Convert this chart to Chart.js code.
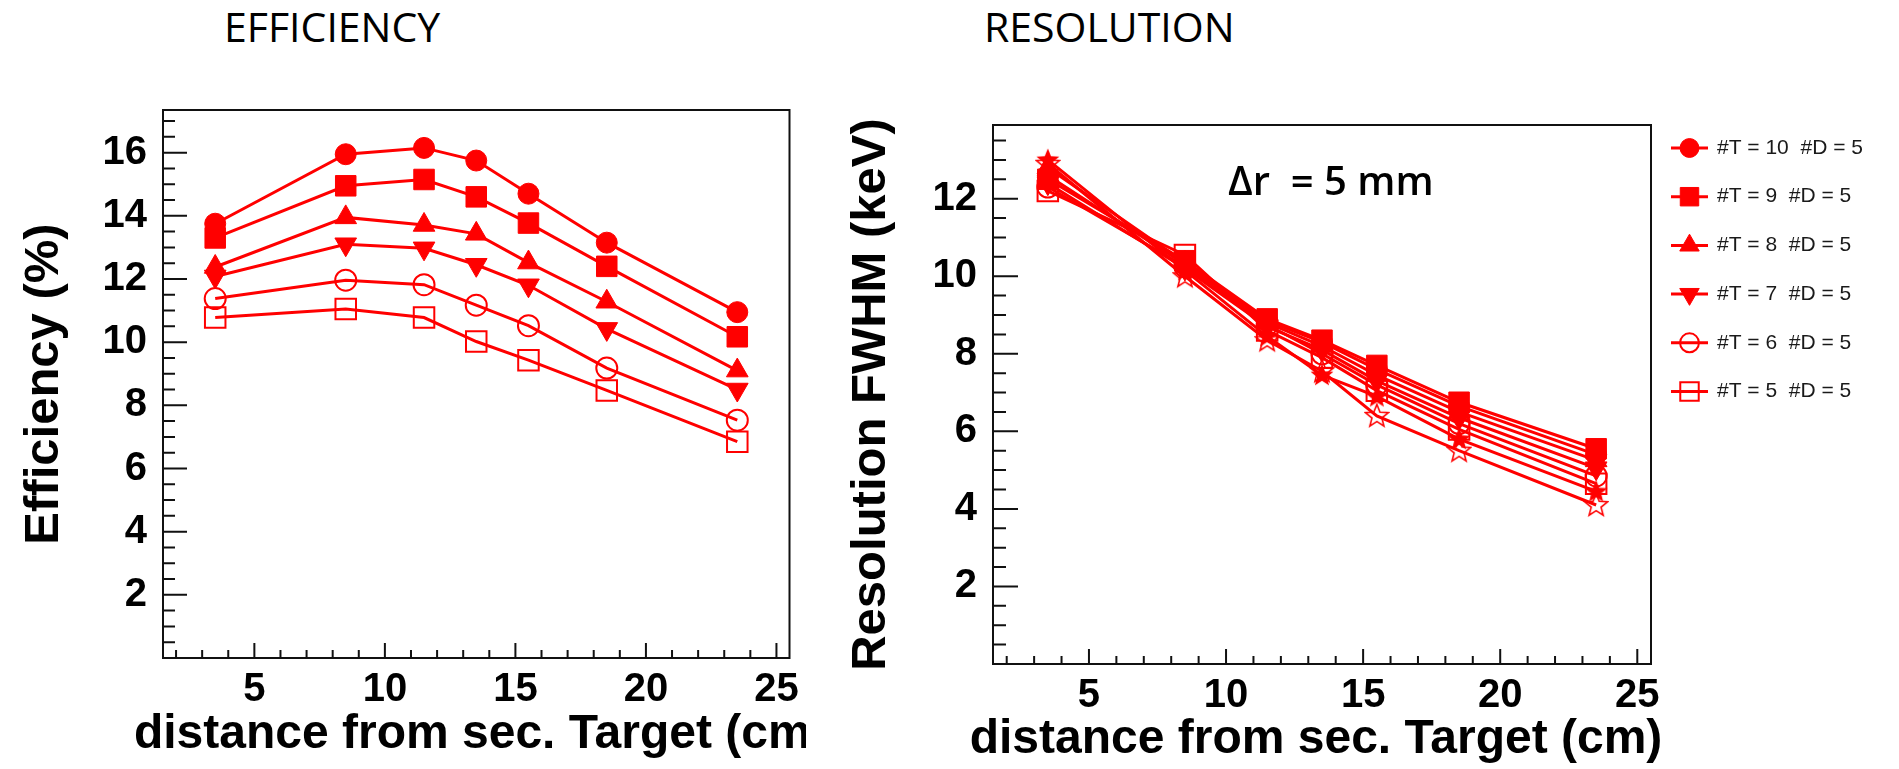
<!DOCTYPE html>
<html>
<head>
<meta charset="utf-8">
<script src="https://cdn.jsdelivr.net/npm/chart.js@4.4.1/dist/chart.umd.min.js"></script>
<style>
  body { margin: 0; background: #fff; width: 1899px; height: 769px; position: relative; overflow: hidden; }
  canvas { position: absolute; top: 0; }
  .ttl { position: absolute; font-family: "Open Sans"; font-size: 41px; line-height: 40px; color: #000; }
  #dr { position: absolute; left: 1228px; top: 160px; font-family: "Open Sans"; font-weight: 600; font-size: 40px; line-height: 40px; color: #000; white-space: pre; }
</style>
</head>
<body>
<div class="ttl" style="left:224px; top:6px">EFFICIENCY</div>
<div class="ttl" style="left:984px; top:6px">RESOLUTION</div>
<canvas id="eff" width="806" height="769" style="left:0"></canvas>
<canvas id="res" width="1093" height="769" style="left:806px"></canvas>
<div id="dr">Δr  = 5 mm</div>
<script>
// distance from secondary target (cm)
const distances = [3.5, 8.5, 11.5, 13.5, 15.5, 18.5, 23.5];
const xTicks = [5, 10, 15, 20, 25];
const effTicks = [2, 4, 6, 8, 10, 12, 14, 16];
const resTicks = [2, 4, 6, 8, 10, 12];

const seriesLabels = [
  "#T = 10  #D = 5", "#T = 9  #D = 5", "#T = 8  #D = 5",
  "#T = 7  #D = 5", "#T = 6  #D = 5", "#T = 5  #D = 5"
];

// efficiency (%)
const effT10 = [13.75, 15.95, 16.15, 15.75, 14.7, 13.15, 10.95];
const effT9 = [13.3, 14.95, 15.15, 14.6, 13.77, 12.4, 10.17];
const effT8 = [12.38, 13.95, 13.71, 13.43, 12.52, 11.28, 9.1];
const effT7 = [12.08, 13.1, 12.97, 12.45, 11.8, 10.42, 8.5];
const effT6 = [11.38, 11.96, 11.82, 11.17, 10.52, 9.18, 7.53];
const effT5 = [10.78, 11.05, 10.78, 10.02, 9.43, 8.47, 6.85];

// resolution FWHM (keV)
const resT10 = [12.6, 10.3, 8.85, 8.3, 7.6, 6.65, 5.4];
const resT9 = [12.5, 10.4, 8.9, 8.35, 7.7, 6.75, 5.55];
const resT8 = [12.8, 10.35, 8.8, 8.2, 7.45, 6.5, 5.25];
const resT7 = [12.4, 10.2, 8.7, 8.1, 7.3, 6.35, 5.05];
const resT6 = [12.3, 10.25, 8.75, 8.0, 7.2, 6.2, 4.85];
const resT5 = [12.2, 10.55, 8.6, 7.9, 7.05, 6.05, 4.65];
// two extra graphs drawn with stars, not in the legend
const resStarFilled = [13.0, 10.15, 8.45, 7.45, 6.9, 5.8, 4.45];
const resStarOpen = [12.9, 10.0, 8.35, 7.55, 6.4, 5.5, 4.1];

const RED = "#ff0000";
const FONT = "'Liberation Sans', Arial, sans-serif";
const X_TITLE = "distance from sec. Target (cm)";

function starImage(filled) {
  const c = document.createElement("canvas");
  c.width = 26;
  c.height = 26;
  const g = c.getContext("2d");
  g.beginPath();
  for (let i = 0; i < 10; i++) {
    const r = i % 2 ? 5.2 : 12;
    const a = -Math.PI / 2 + i * Math.PI / 5;
    g.lineTo(13 + r * Math.cos(a), 13.5 + r * Math.sin(a));
  }
  g.closePath();
  if (filled) {
    g.fillStyle = RED;
    g.fill();
  } else {
    g.strokeStyle = RED;
    g.lineWidth = 1.6;
    g.stroke();
  }
  return c;
}

const markers = [
  { style: "circle", r: 10.5, fill: true },
  { style: "rect", r: 14.5, fill: true },
  { style: "triangle", r: 12.5, fill: true },
  { style: "triangle", r: 12.5, fill: true, rot: 180 },
  { style: "circle", r: 10.5, fill: false },
  { style: "rect", r: 14.5, fill: false }
];

function makeSet(label, ys, m) {
  return {
    label,
    data: distances.map((x, i) => ({ x, y: ys[i] })),
    borderColor: RED,
    borderWidth: 3,
    pointStyle: m.style,
    pointRadius: m.r,
    pointHoverRadius: m.r,
    pointRotation: m.rot || 0,
    pointBackgroundColor: m.fill ? RED : "rgba(0,0,0,0)",
    pointBorderColor: RED,
    pointBorderWidth: m.fill ? 1 : 2,
    showLine: true,
    tension: 0
  };
}

// frame, inside ticks and an unsqueezed x-axis title, the way ROOT draws them
const frameTicks = {
  id: "frameTicks",
  afterDraw(chart, args, opts) {
    const { ctx, chartArea: a, scales: { x, y } } = chart;
    ctx.save();
    ctx.strokeStyle = "#111";
    ctx.lineWidth = 2;
    ctx.strokeRect(a.left, a.top, a.right - a.left, a.bottom - a.top);
    ctx.beginPath();
    for (let v = 0.5; v < y.max; v += 0.5) {
      const py = y.getPixelForValue(v);
      const len = v % 2 === 0 ? opts.yMajor : opts.yMinor;
      ctx.moveTo(a.left, py);
      ctx.lineTo(a.left + len, py);
    }
    for (let v = Math.ceil(x.min); v < x.max; v += 1) {
      const px = x.getPixelForValue(v);
      const len = v % 5 === 0 ? 15 : 8;
      ctx.moveTo(px, a.bottom);
      ctx.lineTo(px, a.bottom - len);
    }
    ctx.stroke();

    ctx.fillStyle = "#000";
    ctx.font = "bold " + opts.titleSize + "px " + FONT;
    ctx.textAlign = "center";
    ctx.textBaseline = "alphabetic";
    ctx.fillText(X_TITLE, (a.left + a.right) / 2 + opts.titleShift, opts.titleBase);
    ctx.restore();
  }
};

// legend: line segment with marker, then label
const lineLegend = {
  id: "lineLegend",
  afterDraw(chart) {
    const { ctx, chartArea: a } = chart;
    ctx.save();
    chart.data.datasets.slice(0, seriesLabels.length).forEach((ds, i) => {
      const y = a.top + 23 + i * 48.7;
      ctx.strokeStyle = RED;
      ctx.lineWidth = 3;
      ctx.beginPath();
      ctx.moveTo(a.right + 20, y);
      ctx.lineTo(a.right + 57, y);
      ctx.stroke();
      ctx.fillStyle = ds.pointBackgroundColor;
      ctx.lineWidth = ds.pointBorderWidth;
      Chart.helpers.drawPoint(ctx, {
        pointStyle: ds.pointStyle,
        radius: ds.pointRadius * 0.9,
        rotation: ds.pointRotation,
        borderWidth: ds.pointBorderWidth
      }, a.right + 38.5, y);
      ctx.fillStyle = "#1a1a1a";
      ctx.font = "21px " + FONT;
      ctx.textBaseline = "middle";
      ctx.textAlign = "left";
      ctx.fillText(ds.label, a.right + 66, y);
    });
    ctx.restore();
  }
};

function axes(cfg) {
  return {
    x: {
      type: "linear", min: 1.5, max: 25.5,
      grid: { display: false }, border: { display: false },
      afterBuildTicks: s => { s.ticks = xTicks.map(v => ({ value: v })); },
      afterFit: s => { s.height = cfg.xH; },
      ticks: { font: { family: FONT, size: 40, weight: "bold" }, color: "#000", padding: 0, maxRotation: 0, autoSkip: false },
      title: { display: false }
    },
    y: {
      type: "linear", min: 0, max: cfg.yMax,
      grid: { display: false }, border: { display: false },
      afterBuildTicks: s => { s.ticks = cfg.yTicks.map(v => ({ value: v })); },
      afterFit: s => { s.width = cfg.yW; },
      ticks: { font: { family: FONT, size: 40, weight: "bold" }, color: "#000", padding: 8 },
      title: { display: true, text: cfg.yTitle, color: "#000",
        font: { family: FONT, size: 49, weight: "bold", lineHeight: 1.2 }, padding: { top: cfg.yTitlePad, bottom: 0 } }
    }
  };
}

const common = {
  responsive: false,
  animation: false,
  devicePixelRatio: 1,
  events: []
};

new Chart(document.getElementById("eff"), {
  type: "scatter",
  data: {
    datasets: [effT10, effT9, effT8, effT7, effT6, effT5].map((ys, i) => makeSet(seriesLabels[i], ys, markers[i]))
  },
  options: {
    ...common,
    layout: { padding: { left: 0, top: 110, right: 4, bottom: 0 } },
    scales: axes({ yMax: 17.35, yTicks: effTicks, yTitle: "Efficiency (%)", yW: 163, xH: 111, yTitlePad: 15 }),
    plugins: {
      legend: { display: false }, tooltip: { enabled: false },
      frameTicks: { yMajor: 24, yMinor: 12, titleSize: 48, titleShift: 4, titleBase: 748 }
    }
  },
  plugins: [frameTicks]
});

const starFilledSet = makeSet("star", resStarFilled, { style: starImage(true), r: 12, fill: true });
const starOpenSet = makeSet("open star", resStarOpen, { style: starImage(false), r: 12, fill: false });

new Chart(document.getElementById("res"), {
  type: "scatter",
  data: {
    datasets: [resT10, resT9, resT8, resT7, resT6, resT5]
      .map((ys, i) => makeSet(seriesLabels[i], ys, markers[i]))
      .concat([starFilledSet, starOpenSet])
  },
  options: {
    ...common,
    layout: { padding: { left: 0, top: 125, right: 248, bottom: 0 } },
    scales: axes({ yMax: 13.9, yTicks: resTicks, yTitle: "Resolution FWHM (keV)", yW: 187, xH: 105, yTitlePad: 36 }),
    plugins: {
      legend: { display: false }, tooltip: { enabled: false },
      frameTicks: { yMajor: 25, yMinor: 13, titleSize: 48, titleShift: -6, titleBase: 753 }
    }
  },
  plugins: [frameTicks, lineLegend]
});
</script>
</body>
</html>
